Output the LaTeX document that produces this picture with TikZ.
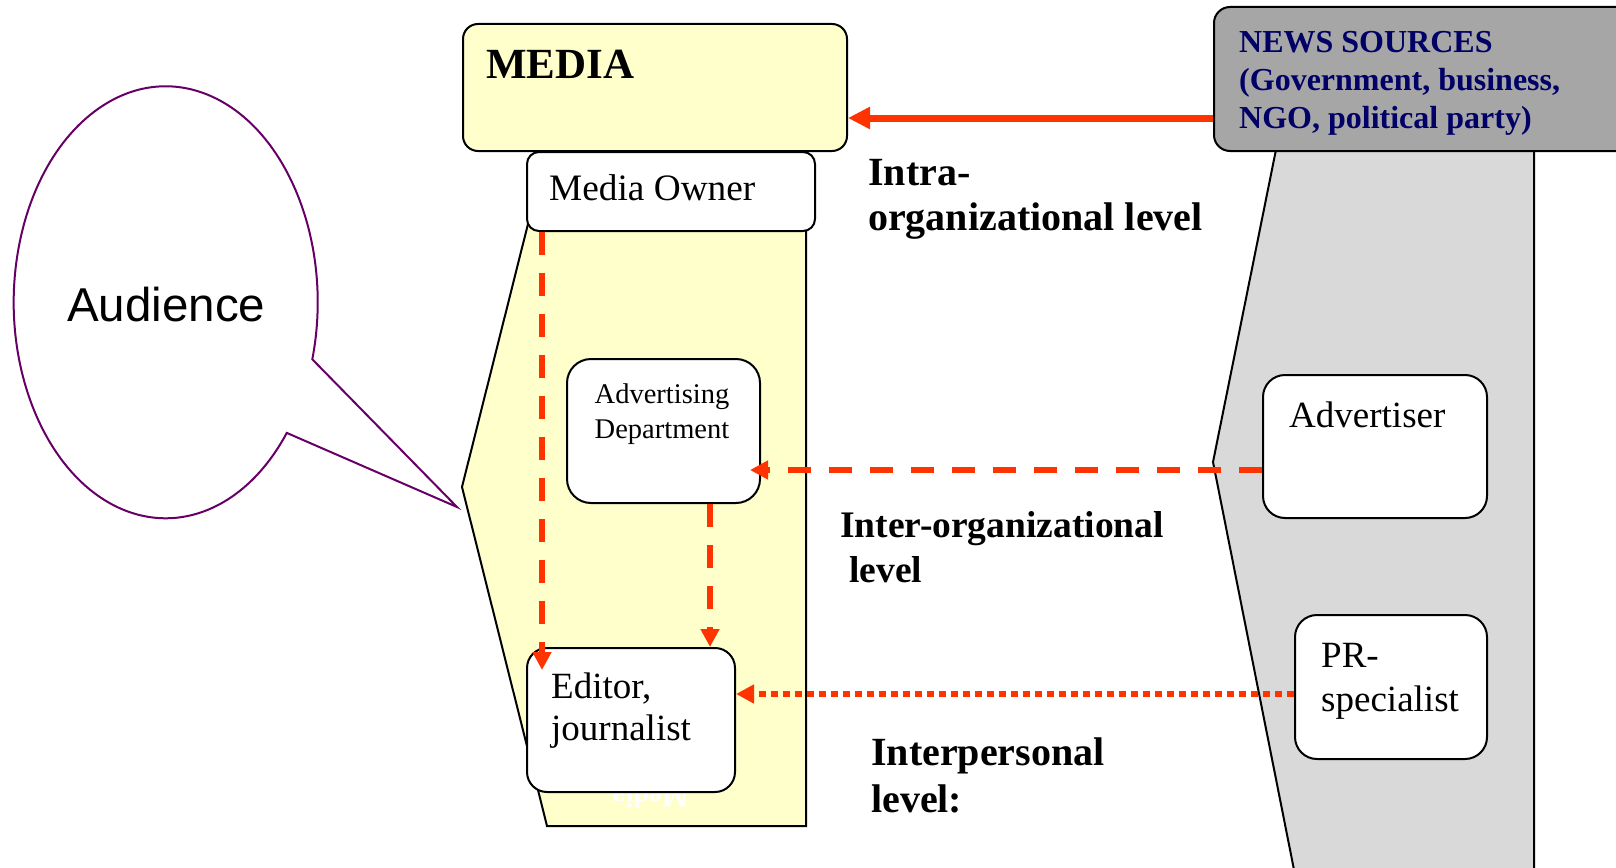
\documentclass[tikz,border=0pt]{standalone}
\usepackage{fontspec}
\setmainfont{Liberation Serif}
\newfontfamily\arialfont{Liberation Sans}
\usetikzlibrary{arrows.meta}
\definecolor{mediayellow}{HTML}{FFFFCC}
\definecolor{boxgray}{HTML}{A6A6A6}
\definecolor{bodygray}{HTML}{D9D9D9}
\definecolor{arrowred}{HTML}{FF3300}
\definecolor{navytext}{HTML}{000066}
\definecolor{calloutpurple}{HTML}{660066}
\begin{document}
\begin{tikzpicture}[x=1pt,y=-1pt,
  rbox/.style={draw=black,line width=2pt,fill=white,inner sep=0pt,anchor=north west},
  txt/.style={inner sep=0pt,anchor=base west,align=left},
  body/.style={draw=black,line width=2pt,line join=miter},
  solidarrow/.style={draw=arrowred,line width=7pt,-{Triangle[length=22pt,width=21pt]}},
  dasharrow/.style={draw=arrowred,line width=6pt,dash pattern=on 23pt off 18pt,-{Triangle[length=18pt,width=18pt]}},
  dotarrow/.style={draw=arrowred,line width=6pt,dash pattern=on 7pt off 5pt,-{Triangle[length=18pt,width=18pt]}}
]
\useasboundingbox (0,0) rectangle (1616,867);
\clip (0,0) rectangle (1616,867);
\fill[white] (0,0) rectangle (1616,867);

% media body
\filldraw[body,fill=mediayellow] (534,200) -- (462,487) -- (547,826) -- (806,826) -- (806,200) -- cycle;
\node[rotate=180,text=white,inner sep=0pt,anchor=base,font=\fontsize{28}{32}\selectfont\bfseries] (mirror) at (650,788) {Media};

% news body
\filldraw[body,fill=bodygray] (1286,100) -- (1213,462) -- (1300,900) -- (1534,900) -- (1534,100) -- cycle;

% boxes
\node[rbox,fill=mediayellow,rounded corners=15pt,minimum width=384pt,minimum height=127pt] (media) at (462,23) {};
\node[rbox,rounded corners=12pt,minimum width=288pt,minimum height=79pt] (owner) at (526,151) {};
\node[rbox,rounded corners=24pt,minimum width=193pt,minimum height=144pt] (advdept) at (566,358) {};
\node[rbox,rounded corners=20pt,minimum width=208pt,minimum height=144pt] (editor) at (526,647) {};
\node[rbox,fill=boxgray,rounded corners=16pt,minimum width=440pt,minimum height=144pt] (news) at (1213,6) {};
\node[rbox,rounded corners=22pt,minimum width=224pt,minimum height=143pt] (advertiser) at (1262,374) {};
\node[rbox,rounded corners=22pt,minimum width=192pt,minimum height=144pt] (pr) at (1294,614) {};

% box texts (multi-line nodes anchored at the baseline of their last line)
\node[txt,font=\fontsize{43}{50}\selectfont\bfseries] (mediatext) at (486,78) {MEDIA};
\node[txt,text=navytext,font=\fontsize{32}{38}\selectfont\bfseries] (newstext) at (1239,128.3) {NEWS SOURCES\\(Government, business,\\NGO, political party)};
\node[txt,font=\fontsize{37.3}{44}\selectfont] (ownertext) at (549,200) {Media Owner};
\node[inner sep=0pt,anchor=base,align=center,font=\fontsize{28.5}{35}\selectfont] (advdepttext) at (662,438) {Advertising\\Department};
\node[txt,font=\fontsize{37}{42}\selectfont] (editortext) at (551,740) {Editor,\\journalist};
\node[txt,font=\fontsize{37}{44}\selectfont] (advertisertext) at (1289,427) {Advertiser};
\node[txt,font=\fontsize{37}{44}\selectfont] (prtext) at (1321,711) {PR-\\specialist};

% level labels
\node[txt,font=\fontsize{40}{45}\selectfont\bfseries] (intra) at (868,230) {Intra-\\organizational level};
\node[txt,font=\fontsize{37.5}{45}\selectfont\bfseries] (inter) at (840,582) {Inter-organizational\\\hspace*{9pt}level};
\node[txt,font=\fontsize{40}{46.5}\selectfont\bfseries] (interp) at (871,812) {Interpersonal\\level:};

% connectors
\coordinate (ysolid) at (0,118);
\coordinate (ydash) at (0,470);
\coordinate (ydot) at (0,694);
\coordinate (xowner) at (542,0);
\coordinate (xadv) at (710,0);
\coordinate (ownertip) at (542,670);
\coordinate (advdepttip) at (750,470);
\draw[solidarrow] (news.west |- ysolid) -- (media.east |- ysolid);
\draw[dasharrow] (advertiser.west |- ydash) -- (advdepttip);
\draw[dotarrow] (pr.west |- ydot) -- (editor.east |- ydot);
\draw[dasharrow] (owner.south -| xowner) -- (ownertip);
\draw[dasharrow] (advdept.south -| xadv) -- (editor.north -| xadv);

% audience callout
\coordinate (audc) at (165,302);
\coordinate (tailtip) at (457,507);
\draw[calloutpurple,line width=2pt,fill=white,line join=miter]
  (312.3,359.3) arc[start angle=15.3,end angle=-322.8,x radius=152,y radius=216] -- (tailtip) -- cycle;
\node[txt,font=\arialfont\fontsize{47.5}{54}\selectfont] (audience) at (67,321) {Audience};
\end{tikzpicture}
\end{document}
